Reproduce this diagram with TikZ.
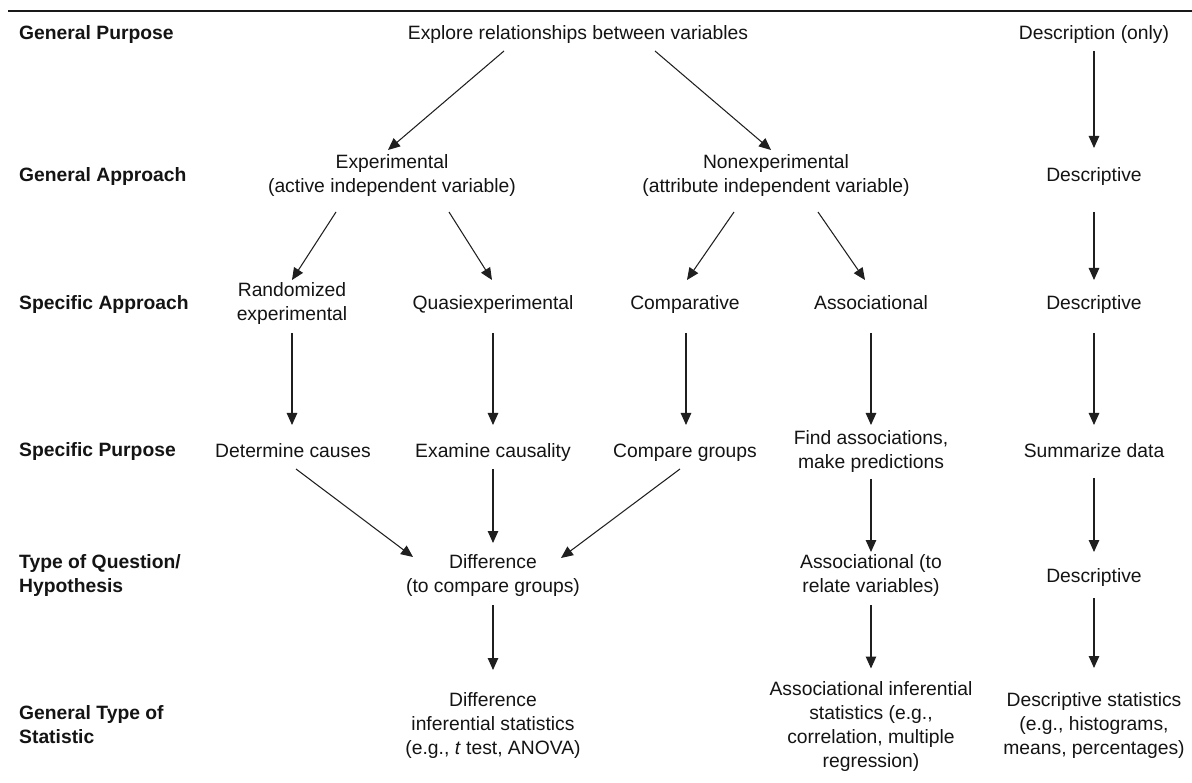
\documentclass[tikz,border=0pt]{standalone}
\usepackage{fontspec}
\setmainfont{Liberation Sans}
\usetikzlibrary{arrows.meta,calc}
\begin{document}
\begin{tikzpicture}[x=1pt,y=-1pt,
  txt/.style={font=\fontsize{19.3}{24}\selectfont, text=black!92, align=center, inner sep=0pt},
  one/.style={txt, text height=14.1pt, text depth=4.1pt},
  lbl/.style={font=\fontsize{19.3}{24}\selectfont\bfseries, text=black!92, align=left, anchor=west, inner sep=0pt},
  arr/.style={draw=black!88, line width=1.05pt, -{Triangle[length=12pt,width=10.5pt]}},
  rule/.style={draw=black!90, line width=1.3pt}]
\useasboundingbox (0,0) rectangle (1192,783);
\fill[white] (0,0) rectangle (1192,783);

% top rule
\coordinate (ruleL) at (8,11);
\coordinate (ruleR) at (1192,11);
\draw[rule] (ruleL) -- (ruleR);

% row labels
\node[lbl] (l1) at (19,35)  {General Purpose};
\node[lbl] (l2) at (19,177) {General Approach};
\node[lbl] (l3) at (19,305) {Specific Approach};
\node[lbl] (l4) at (19,452) {Specific Purpose};
\node[lbl] (l5) at (19,576) {Type of Question/\\Hypothesis};
\node[lbl] (l6) at (19,725) {General Type of\\Statistic};

% row 1
\node[one] (explore) at (578,35)  {Explore relationships between variables};
\node[one] (descOnly) at (1094,35) {Description (only)};
% row 2
\node[txt] (exp)    at (392,176) {Experimental\\(active independent variable)};
\node[txt] (nonexp) at (776,176) {Nonexperimental\\(attribute independent variable)};
\node[one] (desc2)  at (1094,177) {Descriptive};
% row 3
\node[txt] (rand)  at (292,303.5) {Randomized\\experimental};
\node[one] (quasi) at (493,305) {Quasiexperimental};
\node[one] (comp)  at (685,305) {Comparative};
\node[one] (assoc) at (871,305) {Associational};
\node[one] (desc3) at (1094,305) {Descriptive};
% row 4
\node[one] (determine) at (293,452) {Determine causes};
\node[one] (examine)   at (493,452) {Examine causality};
\node[one] (compare)   at (685,452) {Compare groups};
\node[txt] (findassoc) at (871,451.5) {Find associations,\\make predictions};
\node[one] (summ)      at (1094,452) {Summarize data};
% row 5
\node[txt] (diff)   at (493,576) {Difference\\(to compare groups)};
\node[txt] (assocq) at (871,576) {Associational (to\\relate variables)};
\node[one] (desc5)  at (1094,577) {Descriptive};
% row 6
\node[txt] (diffstat)  at (493,726) {Difference\\inferential statistics\\(e.g., \textit{t} test, ANOVA)};
\node[txt] (assocstat) at (871,726.5) {Associational inferential\\statistics (e.g.,\\correlation, multiple\\regression)};
\node[txt] (descstat)  at (1094,726) {Descriptive statistics\\(e.g., histograms,\\means, percentages)};

% connectors
\draw[arr] ($(explore)+(-74,16)$) -- ($(exp)+(-4,-26)$);
\draw[arr] ($(explore)+(77,16)$)  -- ($(nonexp)+(-5,-26)$);
\draw[arr] ($(descOnly)+(0,16)$)  -- ($(desc2)+(0,-29)$);

\draw[arr] ($(exp)+(-56,36)$)    -- ($(rand)+(0,-23.5)$);
\draw[arr] ($(exp)+(57,36)$)     -- ($(quasi)+(-1,-25)$);
\draw[arr] ($(nonexp)+(-42,36)$) -- ($(comp)+(2,-25)$);
\draw[arr] ($(nonexp)+(42,36)$)  -- ($(assoc)+(-6,-25)$);
\draw[arr] ($(desc2)+(0,35)$)    -- ($(desc3)+(0,-25)$);

\draw[arr] ($(rand)+(0,29.5)$) -- ($(determine)+(-1,-27)$);
\draw[arr] ($(quasi)+(0,28)$)  -- ($(examine)+(0,-27)$);
\draw[arr] ($(comp)+(1,28)$)   -- ($(compare)+(1,-27)$);
\draw[arr] ($(assoc)+(0,28)$)  -- ($(findassoc)+(0,-26.5)$);
\draw[arr] ($(desc3)+(0,28)$)  -- ($(summ)+(0,-27)$);

\draw[arr] ($(determine)+(3,17)$) -- ($(diff)+(-80,-19)$);
\draw[arr] ($(examine)+(0,17)$)   -- ($(diff)+(0,-33)$);
\draw[arr] ($(compare)+(-5,17)$)  -- ($(diff)+(68,-18)$);
\draw[arr] ($(findassoc)+(0,27.5)$) -- ($(assocq)+(0,-24)$);
\draw[arr] ($(summ)+(0,26)$)      -- ($(desc5)+(0,-25)$);

\draw[arr] ($(diff)+(0,29)$)   -- ($(diffstat)+(0,-56)$);
\draw[arr] ($(assocq)+(0,29)$) -- ($(assocstat)+(0,-58)$);
\draw[arr] ($(desc5)+(0,21)$)  -- ($(descstat)+(0,-58)$);
\end{tikzpicture}
\end{document}
